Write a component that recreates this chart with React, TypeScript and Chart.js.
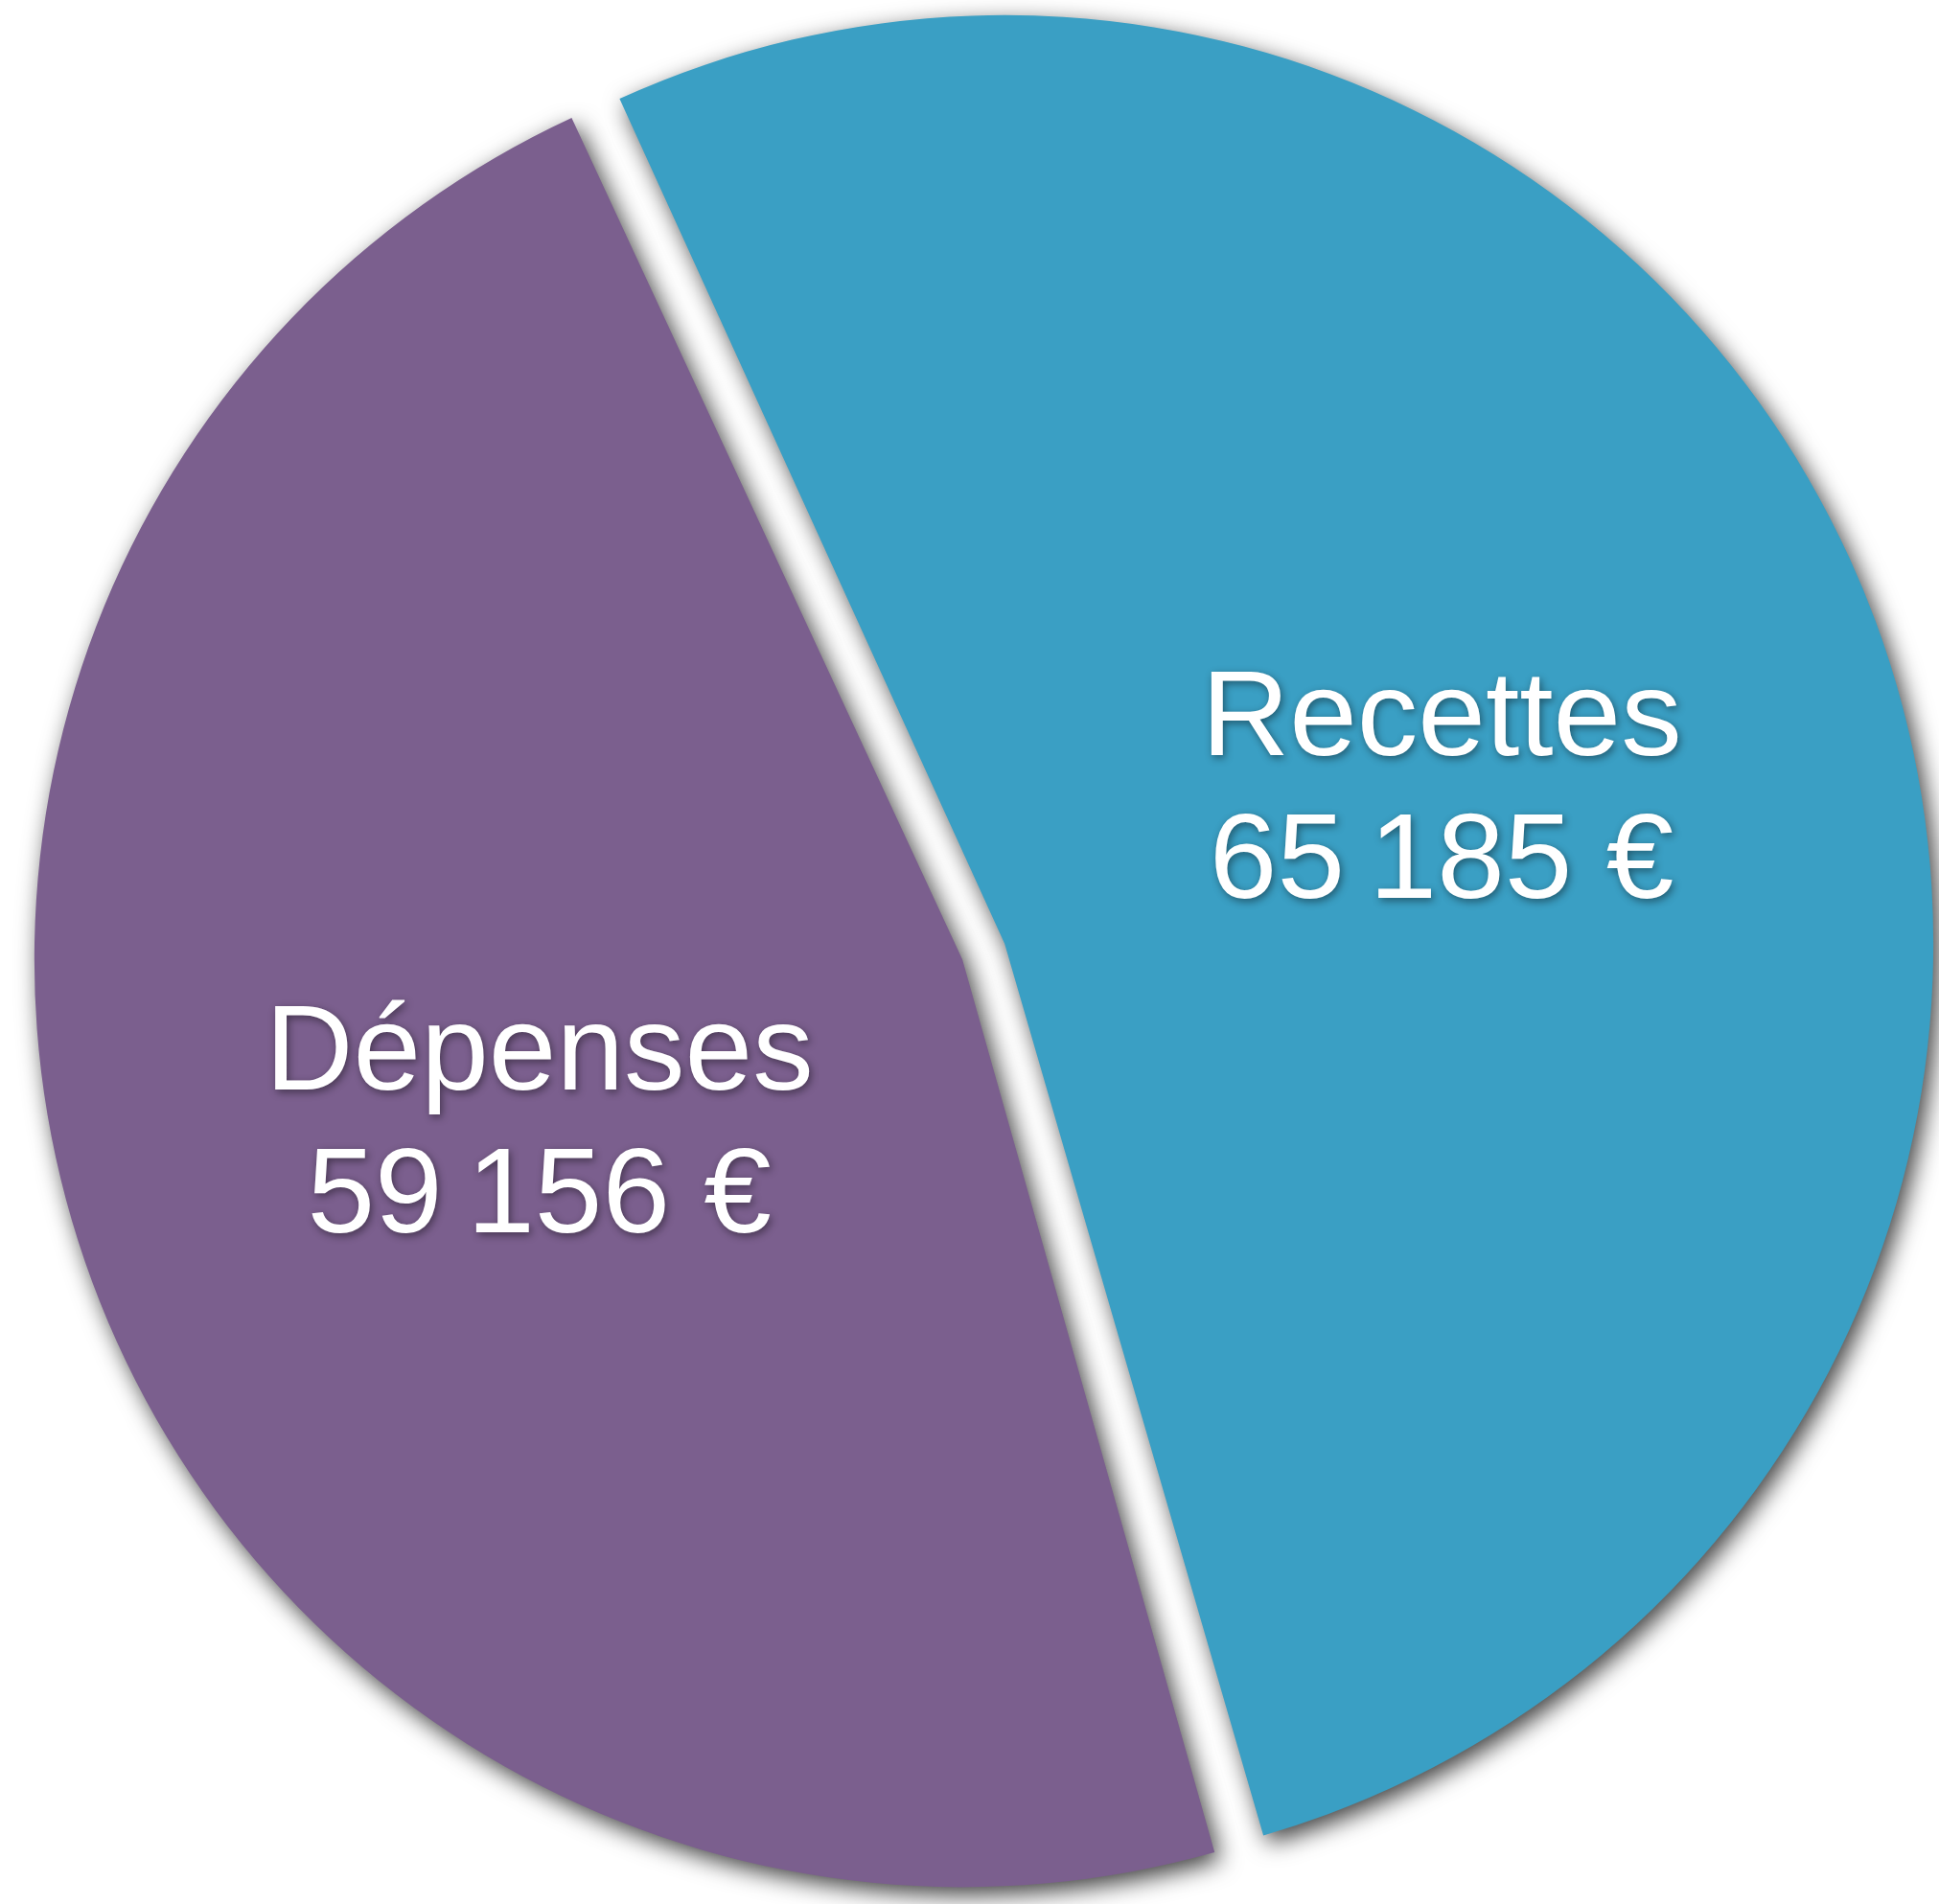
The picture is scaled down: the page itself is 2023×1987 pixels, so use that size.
import React, { useEffect, useRef } from "react";
import { Chart, registerables } from "chart.js";

Chart.register(...registerables);

const categories = ["Recettes", "Dépenses"];
const values = [65185, 59156];
const sliceColors = ["#3A9FC4", "#7B5F8E"];
const currency = "€";

function formatAmount(v: number): string {
  const s = String(Math.round(v));
  let out = "";
  for (let i = 0; i < s.length; i++) {
    const fromEnd = s.length - i;
    out += s[i];
    if (fromEnd > 1 && (fromEnd - 1) % 3 === 0) out += "\u202F";
  }
  return out + " " + currency;
}

const OFFSETS = [88, 100]; // chart.js translates arcs by offset/4
const RADIUS = 947;

const labelPlugin = {
  id: "sliceLabels",
  beforeDatasetsDraw(chart: any) {
    const ctx = chart.ctx;
    ctx.save();
    ctx.shadowColor = "rgba(0,0,0,0.75)";
    ctx.shadowBlur = 24;
    ctx.shadowOffsetX = 6;
    ctx.shadowOffsetY = 8;
  },
  afterDatasetsDraw(chart: any) {
    const ctx = chart.ctx;
    ctx.restore();
    const meta = chart.getDatasetMeta(0);
    ctx.save();
    ctx.font = "127px 'Liberation Sans', Arial, sans-serif";
    ctx.textAlign = "center";
    ctx.textBaseline = "alphabetic";
    ctx.fillStyle = "#FFFFFF";
    ctx.shadowColor = "rgba(0,0,0,0.45)";
    ctx.shadowBlur = 8;
    ctx.shadowOffsetX = 2;
    ctx.shadowOffsetY = 3;
    meta.data.forEach((arc: any, i: number) => {
      const p = arc.getProps(["x", "y", "startAngle", "endAngle", "outerRadius"], true);
      const t = (arc.options.offset || 0) / 4;
      const mid = (p.startAngle + p.endAngle) / 2;
      const d = t + 0.493 * (p.outerRadius + t);
      const cx = p.x + Math.cos(mid) * d + 8;
      const cy = p.y + Math.sin(mid) * d - 3;
      ctx.fillText(categories[i], cx, cy - 28);
      ctx.fillText(formatAmount(values[i]), cx, cy + 121);
    });
    ctx.restore();
  },
};

export default function App() {
  const ref = useRef<HTMLCanvasElement | null>(null);
  useEffect(() => {
    if (!ref.current) return;
    const chart = new Chart(ref.current, {
      type: "pie",
      data: {
        labels: categories,
        datasets: [
          {
            data: values,
            backgroundColor: sliceColors,
            borderWidth: 0,
            offset: OFFSETS,
            radius: RADIUS,
          } as any,
        ],
      },
      options: {
        animation: false,
        responsive: false,
        rotation: -24.7,
        layout: { padding: { left: 32, right: 0, top: 0, bottom: 2 } },
        plugins: {
          legend: { display: false },
          tooltip: { enabled: false },
        },
        events: [],
      } as any,
      plugins: [labelPlugin],
    });
    return () => chart.destroy();
  }, []);
  return (
    <canvas
      ref={ref}
      width={2023}
      height={1987}
      style={{ position: "absolute", left: 0, top: 0, display: "block", background: "#FFFFFF" }}
    />
  );
}
